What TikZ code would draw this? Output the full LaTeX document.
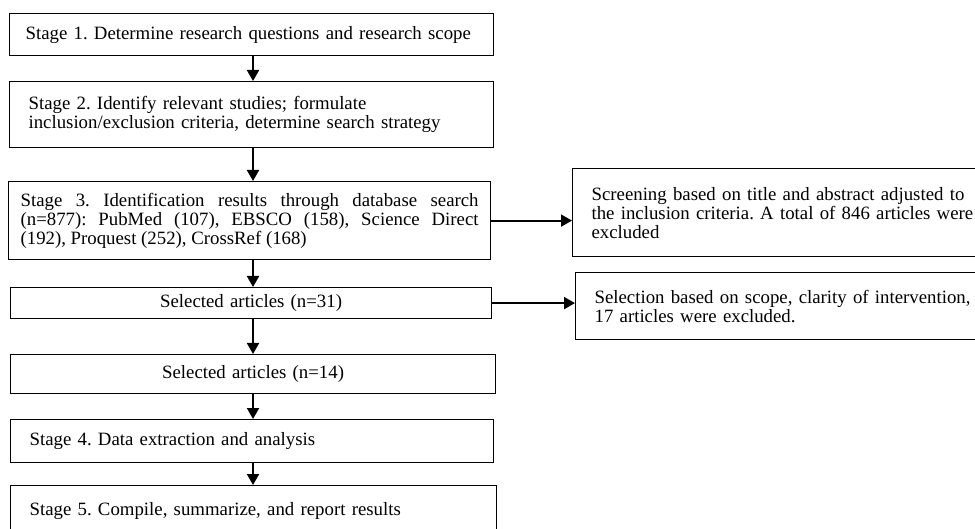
\documentclass[tikz,border=0pt]{standalone}
\usepackage{fontspec}
\setmainfont{Liberation Serif}
\usetikzlibrary{arrows.meta,positioning}

\begin{document}
\begin{tikzpicture}[x=1pt,y=-1pt,
  box/.style={draw,line width=1.2pt,anchor=north west,inner xsep=19pt,inner ysep=0pt,
    align=left,font=\fontsize{18.8}{19}\selectfont\frenchspacing},
  arr/.style={line width=2pt,-{Triangle[width=12pt,length=11pt]}}]
  \useasboundingbox (0,0) rectangle (975,529);
  \clip (0,0) rectangle (975,529);
  \coordinate (col) at (253,0);
  % main column
  \node[box,text width=452pt,inner xsep=16pt,minimum height=42pt] (s1) at (9,13)
    {Stage 1. Determine research questions and research scope};
  \node[box,text width=446pt,minimum height=66pt] (s2) at (9,81)
    {Stage 2. Identify relevant studies; formulate\\inclusion/exclusion criteria, determine search strategy};
  \node[box,text width=458pt,inner xsep=12pt,minimum height=78pt,align=justify] (s3) at (8,181)
    {Stage 3. Identification results through database search\linebreak
     (n=877): PubMed (107), EBSCO (158), Science Direct\linebreak
     (192), Proquest (252), CrossRef (168)};
  \node[box,text width=443pt,minimum height=31pt,align=center] (sel1) at (10,287)
    {Selected articles (n=31)};
  \node[box,text width=447pt,minimum height=39pt,align=center] (sel2) at (10,354)
    {Selected articles (n=14)};
  \node[box,text width=445pt,minimum height=43pt] (s4) at (10,419)
    {Stage 4. Data extraction and analysis};
  \node[box,text width=448pt,minimum height=50pt] (s5) at (10,485)
    {Stage 5. Compile, summarize, and report results};
  % excluded
  \node[box,text width=400pt,minimum height=88pt] (ex1) at (572,168)
    {Screening based on title and abstract adjusted to\\the inclusion criteria. A total of 846 articles were\\excluded};
  \node[box,text width=400pt,minimum height=67pt] (ex2) at (575,272)
    {Selection based on scope, clarity of intervention,\\17 articles were excluded.};
  % arrows
  \draw[arr] (s1.south -| col) -- (s2.north -| col);
  \draw[arr] (s2.south -| col) -- (s3.north -| col);
  \draw[arr] (s3.south -| col) -- (sel1.north -| col);
  \draw[arr] (sel1.south -| col) -- (sel2.north -| col);
  \draw[arr] (sel2.south -| col) -- (s4.north -| col);
  \draw[arr] (s4.south -| col) -- (s5.north -| col);
  \draw[arr] (s3.east) -- (s3.east -| ex1.west);
  \draw[arr] (sel1.east) -- (sel1.east -| ex2.west);
\end{tikzpicture}
\end{document}
